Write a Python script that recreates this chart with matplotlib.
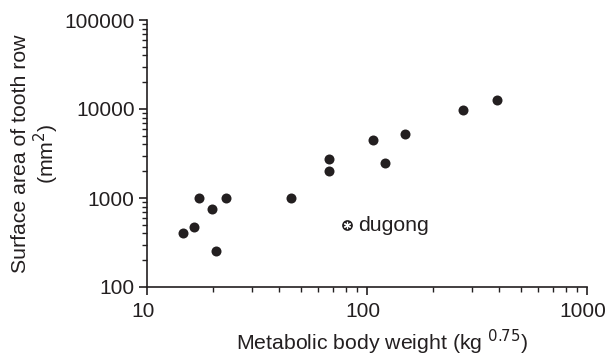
import matplotlib
matplotlib.use("Agg")
import matplotlib.pyplot as plt
import matplotlib.transforms as mtransforms

plt.rcParams['font.family'] = ['Liberation Sans', 'DejaVu Sans']

body_weight = [14.5, 16.3, 17.3, 19.7, 20.6, 22.9, 45, 67.5, 67.5, 106, 121, 148.6, 273, 388]
surface_area = [401, 476, 1000, 746, 252, 1000, 1000, 2720, 2027, 4485, 2494, 5196, 9750, 12630]
dugong_weight = [81.3]
dugong_area = [494]
dugong_label = "dugong"

fig = plt.figure(figsize=(6.08, 3.56), dpi=100)
ax = fig.add_axes([147/608, 1-287/356, 440/608, 267/356])

ax.scatter(body_weight, surface_area, s=52, color='#231f20', zorder=3, linewidths=0)
ax.scatter(dugong_weight, dugong_area, s=60, color='#231f20', zorder=3, linewidths=0)
ax.scatter(dugong_weight, dugong_area, s=20, marker=(6, 2, 0), color='white', zorder=4, linewidths=0.9)
ax.annotate(dugong_label, (dugong_weight[0], dugong_area[0]), xytext=(8, -0.5), textcoords='offset points',
            va='center', ha='left', fontsize=15.3, color='#231f20')

ax.set_xscale('log')
ax.set_yscale('log')
ax.set_xlim(10, 1000)
ax.set_ylim(100, 100000)
ax.set_xticks([10, 100, 1000])
ax.set_xticklabels(['10', '100', '1000'])
ax.set_yticks([100, 1000, 10000, 100000])
ax.set_yticklabels(['100', '1000', '10000', '100000'])

for s in ['top', 'right']:
    ax.spines[s].set_visible(False)
for s in ['left', 'bottom']:
    ax.spines[s].set_linewidth(1.2)
    ax.spines[s].set_color('#231f20')

ax.tick_params(which='major', direction='out', length=6, width=1.2, labelsize=15, colors='#231f20')
ax.tick_params(axis='x', which='major', pad=5)
ax.tick_params(axis='y', which='major', pad=3)
ax.tick_params(which='minor', direction='out', length=3.5, width=1.0, colors='#231f20')

shift = mtransforms.ScaledTranslation(-4/100, 0, fig.dpi_scale_trans)
for lbl in ax.get_xticklabels():
    lbl.set_transform(lbl.get_transform() + shift)

ax.set_xlabel('Metabolic body weight (kg $^{0.75}$)', fontsize=15.3, color='#231f20', labelpad=5)
ax.xaxis.label.set_x(0.534)
ax.set_ylabel('Surface area of tooth row\n(mm$^2$)', fontsize=15.3, color='#231f20', labelpad=2, linespacing=1.1)

fig.savefig('out.png', dpi=100)
